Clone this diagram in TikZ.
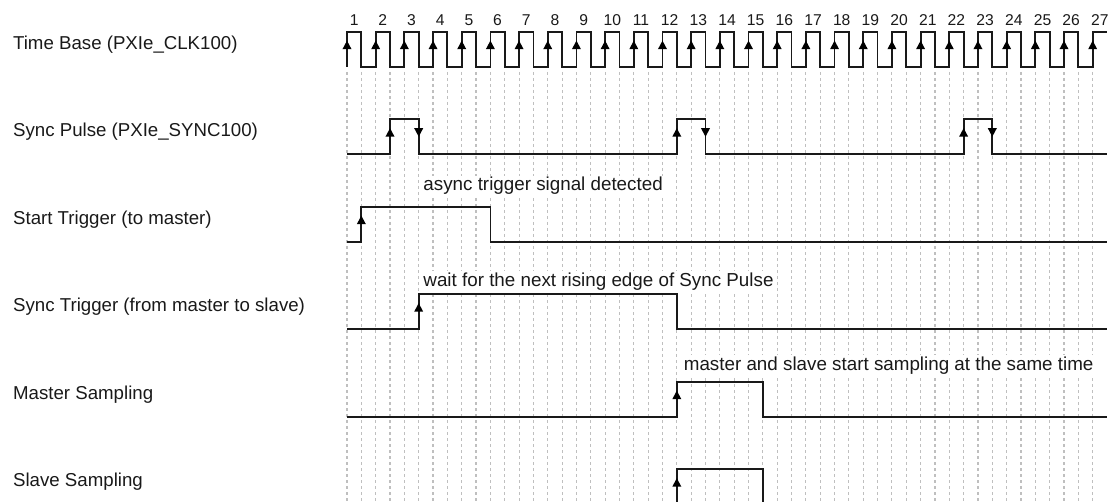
\documentclass[tikz,border=0pt]{standalone}
\usepackage{fontspec}
\setmainfont{Liberation Sans}
\usetikzlibrary{positioning}

\newcommand{\upmark}[2]{\fill[black] (#1,#2) ++(-3.4pt,0pt) -- ++(6.8pt,0pt) -- ++(-3.4pt,6.4pt) -- cycle;}
\newcommand{\downmark}[2]{\fill[black] (#1,#2) -- ++(-3.4pt,6.4pt) -- ++(6.8pt,0pt) -- cycle;}

\begin{document}
\begin{tikzpicture}[
    x=10.755pt, y=-0.75pt,
    wave/.style={line width=1.35pt, line join=miter, black!90},
    gridline/.style={gray!50, line width=0.85pt, dash pattern=on 2.4pt off 2.1pt},
    siglabel/.style={anchor=base west, inner sep=0pt, text=black!90, font=\fontsize{14}{16}\selectfont},
    note/.style={anchor=base west, fill=white, inner sep=1pt, text=black!90, font=\fontsize{14.1}{16}\selectfont},
    ticknum/.style={anchor=base, inner sep=0pt, text=black!90, font=\fontsize{11.75}{13}\selectfont}
  ]
  \useasboundingbox (-24.198,0) rectangle (53.068,502);

  % grid
  \foreach \i in {0,...,52} {
    \draw[gridline] (\i,72) -- (\i,502);
  }

  % cycle numbers
  \foreach \k in {1,...,27} {
    \node[ticknum] (num\k) at ({2*\k-1.5},26) {\k};
  }

  % signal names
  \node[siglabel] (lbl-clk)    at (-23.3,49.3)  {Time Base (PXIe\_CLK100)};
  \node[siglabel] (lbl-sync)   at (-23.3,136.8) {Sync Pulse (PXIe\_SYNC100)};
  \node[siglabel] (lbl-start)  at (-23.3,224.3) {Start Trigger (to master)};
  \node[siglabel] (lbl-strig)  at (-23.3,311.8) {Sync Trigger (from master to slave)};
  \node[siglabel] (lbl-master) at (-23.3,399.3) {Master Sampling};
  \node[siglabel] (lbl-slave)  at (-23.3,486.8) {Slave Sampling};

  % time base
  \draw[wave] (0,66.7) \foreach \k in {0,...,25} {
      -- (2*\k,31.7) -- (2*\k+1,31.7) -- (2*\k+1,66.7) -- (2*\k+2,66.7) }
    -- (52,31.7) -- (53,31.7);
  \foreach \k in {0,...,26} {
    \upmark{2*\k}{49.2}
  }

  % sync pulse
  \draw[wave] (0,154.2) -- (3,154.2) -- (3,119.2) -- (5,119.2) -- (5,154.2)
    -- (23,154.2) -- (23,119.2) -- (25,119.2) -- (25,154.2)
    -- (43,154.2) -- (43,119.2) -- (45,119.2) -- (45,154.2) -- (53,154.2);
  \foreach \x in {3,23,43} {
    \upmark{\x}{136.7}
    \downmark{\x+2}{136.7}
  }

  % start trigger
  \draw[wave] (0,241.7) -- (1,241.7) -- (1,206.7) -- (10,206.7) -- (10,241.7) -- (53,241.7);
  \upmark{1}{224.2}
  \node[note] (note-start) at (5.22,190.5) {async trigger signal detected};

  % sync trigger
  \draw[wave] (0,329.2) -- (5,329.2) -- (5,294.2) -- (23,294.2) -- (23,329.2) -- (53,329.2);
  \upmark{5}{311.7}
  \node[note] (note-strig) at (5.22,286) {wait for the next rising edge of Sync Pulse};

  % master sampling
  \draw[wave] (0,416.7) -- (23,416.7) -- (23,381.7) -- (29,381.7) -- (29,416.7) -- (53,416.7);
  \upmark{23}{399.2}
  \node[note] (note-master) at (23.38,370) {master and slave start sampling at the same time};

  % slave sampling
  \draw[wave] (0,504.2) -- (23,504.2) -- (23,469.2) -- (29,469.2) -- (29,504.2) -- (53,504.2);
  \upmark{23}{486.7}
\end{tikzpicture}
\end{document}
